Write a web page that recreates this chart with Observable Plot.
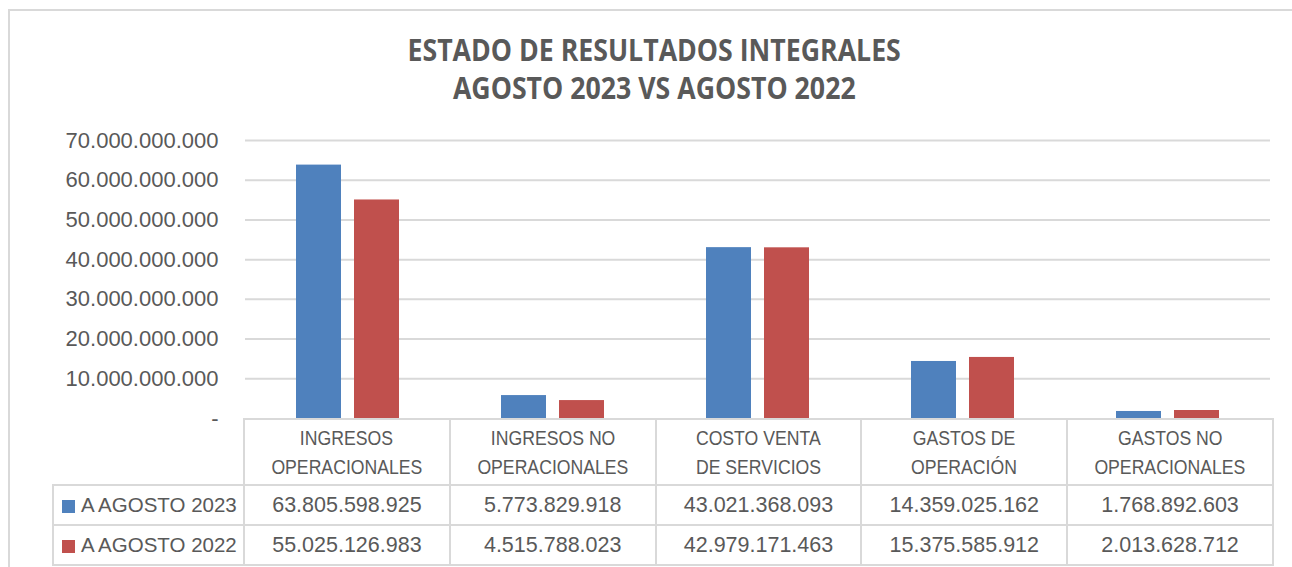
<!DOCTYPE html>
<html>
<head>
<meta charset="utf-8">
<script src="https://cdn.jsdelivr.net/npm/d3@7"></script>
<script src="https://cdn.jsdelivr.net/npm/@observablehq/plot@0.6"></script>
<style>
  html, body { margin: 0; padding: 0; background: #fff; overflow: hidden; width: 1292px; height: 567px; }
  #frame { position: absolute; left: 8px; top: 9px; width: 1400px; height: 700px; border-top: 2px solid #d9d9d9; border-left: 2px solid #d9d9d9; box-sizing: border-box; }
  #title { position: absolute; left: 8px; top: 31px; width: 1292px; text-align: center; font-family: "Open Sans", sans-serif; font-weight: bold; font-size: 30px; line-height: 38px; color: #595959; }
  #title span { display: inline-block; transform: scaleX(0.89); transform-origin: center; }
  #chart { position: absolute; left: 0; top: 120px; }
  #tbl { position: absolute; left: 52px; top: 418px; border-collapse: collapse; table-layout: fixed; color: #595959; width: 1220px; }
  #tbl td { border: 2px solid #d9d9d9; text-align: center; padding: 0; white-space: nowrap; }
  #tbl td.hdr { font-family: "Liberation Sans", sans-serif; font-size: 21px; line-height: 29px; height: 64px; }
  #tbl td.hdr span { display: inline-block; transform: scaleX(0.84); transform-origin: center; }
  #tbl td.blank { border-top: none; border-left: none; }
  #tbl td.num { font-family: "Liberation Sans", sans-serif; font-size: 21.5px; height: 38px; }
  #tbl td.leg { font-family: "Liberation Sans", sans-serif; font-size: 20.5px; text-align: left; padding-left: 8px; }
  .key { display: inline-block; width: 13px; height: 13px; margin-right: 6px; vertical-align: -1px; }
</style>
</head>
<body>
<div id="frame"></div>
<div id="title"><span>ESTADO DE RESULTADOS INTEGRALES</span><br><span>AGOSTO 2023 VS AGOSTO 2022</span></div>
<div id="chart"></div>
<table id="tbl"></table>
<script>
const categories = ["INGRESOS OPERACIONALES", "INGRESOS NO OPERACIONALES", "COSTO VENTA DE SERVICIOS", "GASTOS DE OPERACIÓN", "GASTOS NO OPERACIONALES"];
const categoryLines = [["INGRESOS", "OPERACIONALES"], ["INGRESOS NO", "OPERACIONALES"], ["COSTO VENTA", "DE SERVICIOS"], ["GASTOS DE", "OPERACIÓN"], ["GASTOS NO", "OPERACIONALES"]];
const seriesNames = ["A AGOSTO 2023", "A AGOSTO 2022"];
const values2023 = [63805598925, 5773829918, 43021368093, 14359025162, 1768892603];
const values2022 = [55025126983, 4515788023, 42979171463, 15375585912, 2013628712];
const seriesColors = ["#4F81BD", "#C0504D"];
const yTicks = [0, 10000000000, 20000000000, 30000000000, 40000000000, 50000000000, 60000000000, 70000000000];

const locale = d3.formatLocale({decimal: ",", thousands: ".", grouping: [3], currency: ["$", ""]});
const fmt = locale.format(",.0f");

const data = [];
categories.forEach((c, i) => {
  data.push({cat: c, series: seriesNames[0], value: values2023[i]});
  data.push({cat: c, series: seriesNames[1], value: values2022[i]});
});

const chart = Plot.plot({
  width: 1292,
  height: 310,
  marginTop: 20,
  marginBottom: 12,
  marginLeft: 243,
  marginRight: 20,
  style: {background: "transparent", overflow: "visible", fontFamily: "'Liberation Sans', sans-serif", fontSize: "22px", color: "#595959"},
  fx: {domain: categories, padding: 0, axis: null},
  x: {domain: seriesNames, paddingInner: 0.22, paddingOuter: 0.854, axis: null},
  y: {domain: [0, 70000000000], axis: null},
  color: {domain: seriesNames, range: seriesColors},
  marks: [
    Plot.ruleY(yTicks.filter(d => d > 0), {stroke: "#d9d9d9", strokeWidth: 2}),
    Plot.barY(data, {fx: "cat", x: "series", y: "value", fill: "series"}),
    Plot.axisY(yTicks, {tickSize: 0, tickPadding: 27, tickFormat: d => d === 0 ? "-" : fmt(d), label: null, fill: "#595959"})
  ]
});
document.getElementById("chart").appendChild(chart);

// data table
const tbl = document.getElementById("tbl");
const cg = document.createElement("colgroup");
[191, 205.8, 205.8, 205.8, 205.8, 205.8].forEach(w => {
  const col = document.createElement("col");
  col.style.width = w + "px";
  cg.appendChild(col);
});
tbl.appendChild(cg);
const hr = document.createElement("tr");
const blank = document.createElement("td");
blank.className = "blank";
hr.appendChild(blank);
categoryLines.forEach(lines => {
  const td = document.createElement("td");
  td.className = "hdr";
  td.innerHTML = lines.map(l => `<span>${l}</span>`).join("<br>");
  hr.appendChild(td);
});
tbl.appendChild(hr);
[values2023, values2022].forEach((vals, s) => {
  const tr = document.createElement("tr");
  const lg = document.createElement("td");
  lg.className = "leg num";
  lg.innerHTML = `<span class="key" style="background:${seriesColors[s]}"></span>${seriesNames[s]}`;
  tr.appendChild(lg);
  vals.forEach(v => {
    const td = document.createElement("td");
    td.className = "num";
    td.textContent = fmt(v);
    tr.appendChild(td);
  });
  tbl.appendChild(tr);
});
</script>
</body>
</html>
